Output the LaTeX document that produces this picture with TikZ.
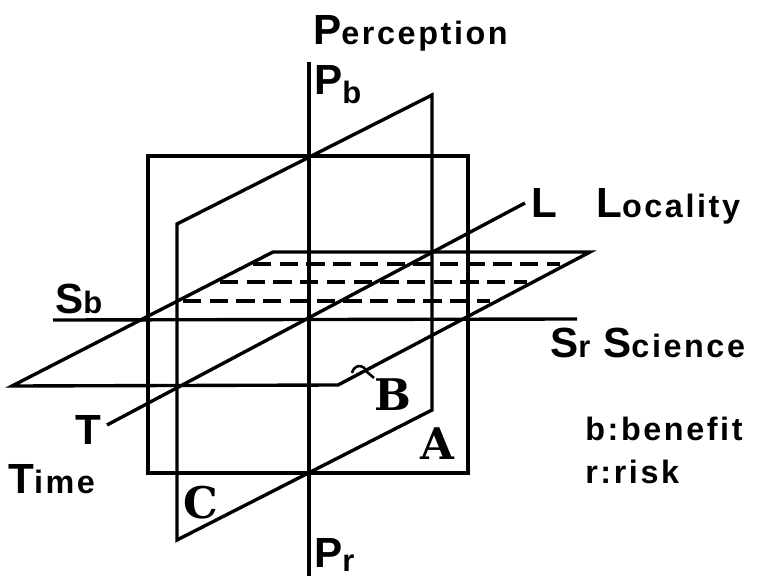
\documentclass[tikz,border=0pt]{standalone}
\usepackage{fontspec}
\newfontfamily\labelfont{Liberation Sans}
\newfontfamily\labelfontwide[LetterSpace=8]{Liberation Sans}
\newfontfamily\planefont{DejaVu Serif}
\usetikzlibrary{positioning}

\newcommand{\bigletter}[1]{{\labelfont\bfseries\fontsize{30}{32}\selectfont #1}}
\newcommand{\subletter}[1]{{\labelfont\bfseries\fontsize{22}{24}\selectfont #1}}
\newcommand{\smallword}[1]{{\labelfontwide\bfseries\fontsize{23}{26}\selectfont #1}}
\newcommand{\planeletter}[1]{{\planefont\bfseries\fontsize{31}{32}\selectfont #1}}

\begin{document}
\begin{tikzpicture}[
        x=0.025cm, y=-0.025cm,
        axis/.style={draw=black, line width=2.4pt},
        plane/.style={draw=black, line width=2.4pt, line join=miter},
        hatch/.style={draw=black, line width=2.4pt, dash pattern=on 13pt off 6pt},
        lbl/.style={anchor=base west, inner sep=0pt}
    ]
        \useasboundingbox (0,0) rectangle (760,576);

        \coordinate (ptop) at (309,62);
        \coordinate (pbot) at (309,576);
        \coordinate (sleft) at (53,320);
        \coordinate (sright) at (577,319);
        \coordinate (tend) at (107,425);
        \coordinate (lend) at (525,203);

        \coordinate (a1) at (148,156);
        \coordinate (a2) at (468,473);

        \coordinate (c1) at (177,540);
        \coordinate (c2) at (177,224);
        \coordinate (c3) at (432,95);
        \coordinate (c4) at (432,410);

        \coordinate (b1) at (12,386);
        \coordinate (b2) at (273,252);
        \coordinate (b3) at (590,252);
        \coordinate (b4) at (338,385);

        \draw[plane] (a1) rectangle (a2);
        \draw[plane] (c1) -- (c2) -- (c3) -- (c4) -- cycle;
        \draw[plane] (b1) -- (b2) -- (b3) -- (b4) -- cycle;

        \draw[hatch] (253,264) -- (560,264);
        \draw[hatch] (220,282) -- (527,282);
        \draw[hatch] (183,301) -- (490,301);

        \draw[axis] (ptop) -- (pbot);
        \draw[axis] (sleft) -- (sright);
        \draw[axis] (tend) -- (lend);

        \node[lbl] (perception) at (313,45) {\bigletter{P}\smallword{erception}};
        \node[lbl] (pb) at (314,95) {\bigletter{P}\raisebox{-6pt}{\subletter{b}}};
        \node[lbl] (llabel) at (531,218) {\bigletter{L}};
        \node[lbl] (locality) at (596,218) {\bigletter{L}\smallword{ocality}};
        \node[lbl] (sb) at (55,313) {\bigletter{S}\subletter{b}};
        \node[lbl] (sr) at (550,357) {\bigletter{S}\subletter{r}};
        \node[lbl] (science) at (603,357) {\bigletter{S}\smallword{cience}};
        \node[lbl] (tlabel) at (75,444) {\bigletter{T}};
        \node[lbl] (time) at (8,493) {\bigletter{T}\smallword{ime}};
        \node[lbl] (benefit) at (585,440) {\smallword{b:benefit}};
        \node[lbl] (risk) at (585,483) {\smallword{r:risk}};
        \node[lbl] (pr) at (314,567) {\bigletter{P}\raisebox{-3pt}{\subletter{r}}};

        \node[lbl] (A) at (420,459) {\planeletter{A}};
        \node[lbl] (B) at (374,410) {\planeletter{B}};
        \node[lbl] (C) at (183,518) {\planeletter{C}};

        \draw[line width=1.8pt] (352,373) .. controls (354,364) and (364,364) .. (367,372) -- (B.north west);
    \end{tikzpicture}
\end{document}
